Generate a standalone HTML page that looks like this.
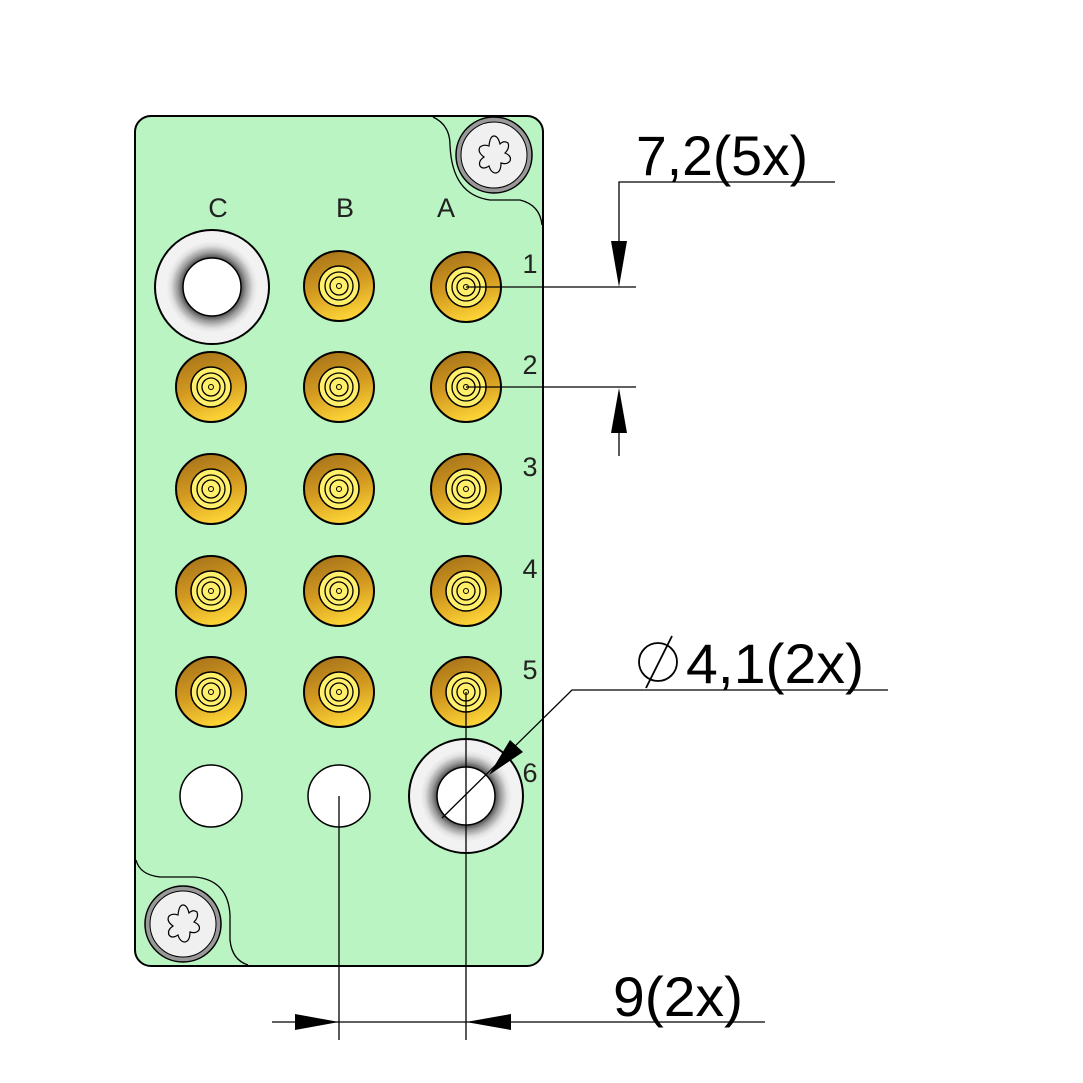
<!DOCTYPE html>
<html><head><meta charset="utf-8"><style>html,body{margin:0;padding:0;background:#fff}svg{display:block}</style></head>
<body>
<svg width="1083" height="1083" viewBox="0 0 1083 1083" xmlns="http://www.w3.org/2000/svg">
<defs>
<linearGradient id="goldlin" x1="0.3" y1="0" x2="0.6" y2="1">
<stop offset="0" stop-color="#a8741a"/><stop offset="0.5" stop-color="#d39a20"/><stop offset="1" stop-color="#ffd838"/>
</linearGradient>
<radialGradient id="ring" cx="50%" cy="50%" r="50%">
<stop offset="0.5" stop-color="#444"/><stop offset="0.6" stop-color="#999"/><stop offset="0.72" stop-color="#e0e0e0"/><stop offset="0.8" stop-color="#f2f2f2"/><stop offset="1" stop-color="#f2f2f2"/>
</radialGradient>
<g id="pin">
<circle r="35" fill="url(#goldlin)" stroke="#000" stroke-width="2"/>
<circle r="20" fill="#ffef6a" stroke="#000" stroke-width="1.5"/>
<circle r="14" fill="none" stroke="#000" stroke-width="1.3"/>
<circle r="9" fill="none" stroke="#000" stroke-width="1.3"/>
<circle r="2.5" fill="none" stroke="#000" stroke-width="1"/>
</g>
<g id="bigring">
<circle r="57" fill="url(#ring)" stroke="#000" stroke-width="2"/>
<circle r="29" fill="#fff" stroke="#000" stroke-width="1.5"/>
</g>
<g id="screw">
<circle r="38" fill="#999" stroke="#000" stroke-width="1.5"/>
<circle r="33" fill="#f0f0f0" stroke="#000" stroke-width="1"/>
<path d="M0,-19 Q4,-19 6,-11 Q10,-15 14,-12 Q16,-7 11,-2 Q18,1 16,6 Q13,10 7,8 Q7,17 2,18 Q-3,18 -5,11 Q-11,15 -14,11 Q-16,6 -10,2 Q-17,-3 -14,-8 Q-10,-11 -5,-9 Q-4,-19 0,-19 Z" fill="#f0f0f0" stroke="#000" stroke-width="1.2"/>
</g>
</defs>
<rect x="135" y="116" width="408" height="850" rx="16" fill="#baf4c2" stroke="#000" stroke-width="2"/>
<path d="M433,117 Q450,125 450,145 Q452,195 490,200 L520,200 Q540,205 542,225" fill="none" stroke="#000" stroke-width="1.3"/>
<path d="M136,860 Q140,875 160,877 L195,877 Q228,880 230,915 L230,940 Q232,960 248,965" fill="none" stroke="#000" stroke-width="1.3"/>
<use href="#screw" x="494" y="155"/>
<use href="#screw" x="183" y="924"/>
<g font-family="Liberation Sans, sans-serif" font-size="27" fill="#222" text-anchor="middle">
<text x="218" y="217">C</text><text x="345" y="217">B</text><text x="446" y="217">A</text>
<text x="530" y="273">1</text><text x="530" y="374">2</text><text x="530" y="476">3</text>
<text x="530" y="578">4</text><text x="530" y="679">5</text><text x="530" y="782">6</text>
</g>
<use href="#bigring" x="212" y="287"/>
<use href="#pin" x="339" y="286"/><use href="#pin" x="466" y="287"/>
<use href="#pin" x="211" y="387"/><use href="#pin" x="339" y="387"/><use href="#pin" x="466" y="387"/>
<use href="#pin" x="211" y="489"/><use href="#pin" x="339" y="489"/><use href="#pin" x="466" y="489"/>
<use href="#pin" x="211" y="591"/><use href="#pin" x="339" y="591"/><use href="#pin" x="466" y="591"/>
<use href="#pin" x="211" y="692"/><use href="#pin" x="339" y="692"/><use href="#pin" x="466" y="692"/>
<circle cx="211" cy="796" r="31" fill="#fff" stroke="#000" stroke-width="1.5"/>
<circle cx="339" cy="796" r="31" fill="#fff" stroke="#000" stroke-width="1.5"/>
<use href="#bigring" x="466" y="796"/>
<g stroke="#000" stroke-width="1.3" fill="none">
<line x1="466" y1="287" x2="636" y2="287"/><line x1="466" y1="387" x2="636" y2="387"/>
<polyline points="835,182 619,182 619,245"/><line x1="619" y1="430" x2="619" y2="456"/>
<polyline points="888,690 572,690 442,818"/>
<line x1="339" y1="796" x2="339" y2="1040"/><line x1="466" y1="692" x2="466" y2="1040"/>
<line x1="272" y1="1022" x2="765" y2="1022"/>
</g>
<g fill="#000">
<polygon points="611,241 627,241 619,287"/>
<polygon points="611,433 627,433 619,388"/>
<polygon points="489,775 510,740 523,752"/>
<polygon points="295,1014 295,1030 339,1022"/>
<polygon points="511,1014 511,1030 466,1022"/>
</g>
<g font-family="Liberation Sans, sans-serif" font-size="56" fill="#000">
<text x="636" y="175" textLength="172" lengthAdjust="spacingAndGlyphs">7,2(5x)</text>
<text x="686" y="683" textLength="178" lengthAdjust="spacingAndGlyphs">4,1(2x)</text>
<text x="613" y="1016" textLength="130" lengthAdjust="spacingAndGlyphs">9(2x)</text>
</g>
<circle cx="658" cy="662" r="19" fill="none" stroke="#000" stroke-width="1.8"/>
<line x1="646" y1="688" x2="672" y2="636" stroke="#000" stroke-width="1.8"/>
</svg>
</body></html>
